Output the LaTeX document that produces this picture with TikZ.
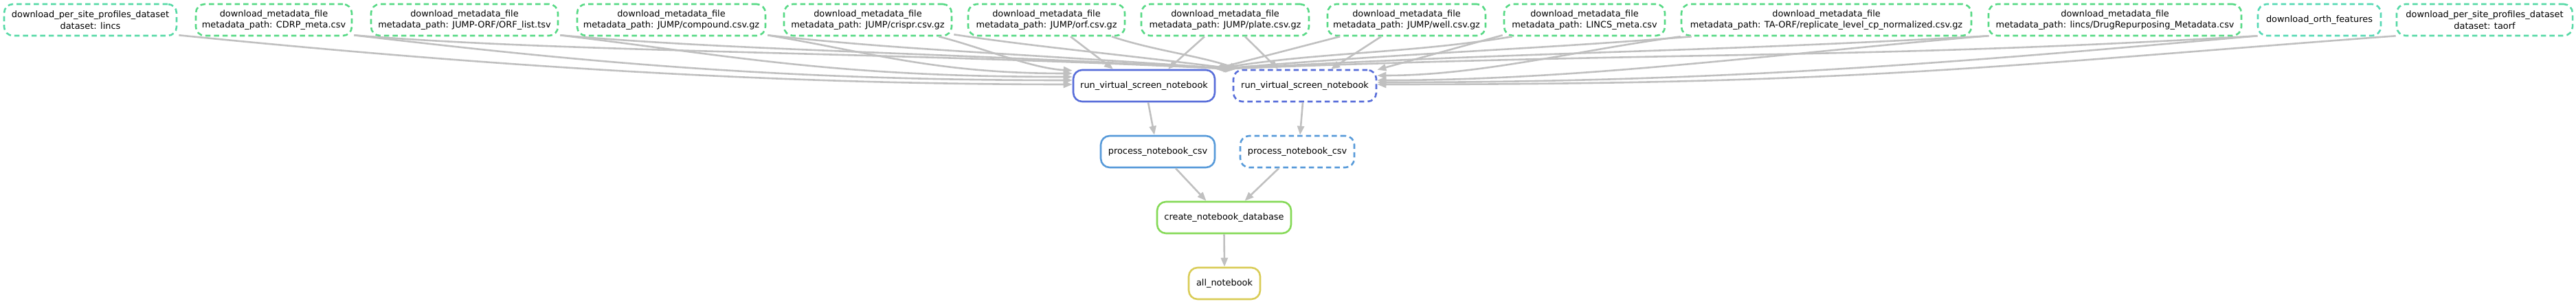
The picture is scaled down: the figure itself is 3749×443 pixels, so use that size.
\documentclass[tikz,border=0pt]{standalone}
\usepackage{fontspec}
\setmainfont{DejaVu Sans}
\usetikzlibrary{arrows.meta}
\definecolor{cPS}{RGB}{87,217,166}
\definecolor{cMD}{RGB}{87,217,133}
\definecolor{cOF}{RGB}{87,217,180}
\definecolor{cRun}{RGB}{87,109,217}
\definecolor{cProc}{RGB}{87,154,217}
\definecolor{cCreate}{RGB}{133,217,87}
\definecolor{cAll}{RGB}{217,204,87}
\definecolor{egray}{RGB}{192,192,192}
\begin{document}
\begin{tikzpicture}[x=1pt,y=-1pt,
  nbox/.style={draw, rounded corners=13pt, line width=2.6pt, align=center, inner sep=0pt,
    minimum height=46pt, font=\fontsize{12.9}{16.7}\selectfont},
  dsh/.style={dash pattern=on 7.5pt off 5pt},
  edge/.style={draw=egray, line width=2.6pt, -{Triangle[length=13pt,width=10pt]}}]
\useasboundingbox (0,0) rectangle (3749,443);

% top row
\node[nbox, dsh, draw=cPS, minimum width=251pt] (N1) at (131.5,29) {download\_per\_site\_profiles\_dataset\\dataset: lincs};
\node[nbox, dsh, draw=cMD, minimum width=227pt] (N2) at (398.5,29) {download\_metadata\_file\\metadata\_path: CDRP\_meta.csv};
\node[nbox, dsh, draw=cMD, minimum width=272pt] (N3) at (676,29) {download\_metadata\_file\\metadata\_path: JUMP-ORF/ORF\_list.tsv};
\node[nbox, dsh, draw=cMD, minimum width=274pt] (N4) at (977,29) {download\_metadata\_file\\metadata\_path: JUMP/compound.csv.gz};
\node[nbox, dsh, draw=cMD, minimum width=244pt] (N5) at (1263,29) {download\_metadata\_file\\metadata\_path: JUMP/crispr.csv.gz};
\node[nbox, dsh, draw=cMD, minimum width=228pt] (N6) at (1523,29) {download\_metadata\_file\\metadata\_path: JUMP/orf.csv.gz};
\node[nbox, dsh, draw=cMD, minimum width=244pt] (N7) at (1783,29) {download\_metadata\_file\\metadata\_path: JUMP/plate.csv.gz};
\node[nbox, dsh, draw=cMD, minimum width=230pt] (N8) at (2047,29) {download\_metadata\_file\\metadata\_path: JUMP/well.csv.gz};
\node[nbox, dsh, draw=cMD, minimum width=234pt] (N9) at (2306,29) {download\_metadata\_file\\metadata\_path: LINCS\_meta.csv};
\node[nbox, dsh, draw=cMD, minimum width=422pt] (N10) at (2658,29) {download\_metadata\_file\\metadata\_path: TA-ORF/replicate\_level\_cp\_normalized.csv.gz};
\node[nbox, dsh, draw=cMD, minimum width=368pt] (N11) at (3078,29) {download\_metadata\_file\\metadata\_path: lincs/DrugRepurposing\_Metadata.csv};
\node[nbox, dsh, draw=cOF, minimum width=179pt] (N12) at (3375.5,29) {download\_orth\_features};
\node[nbox, dsh, draw=cPS, minimum width=256pt] (N13) at (3616,29) {download\_per\_site\_profiles\_dataset\\dataset: taorf};

% lower nodes
\node[nbox, draw=cRun, minimum width=206pt] (R1) at (1665,125) {run\_virtual\_screen\_notebook};
\node[nbox, dsh, draw=cRun, minimum width=208pt] (R2) at (1899,125) {run\_virtual\_screen\_notebook};
\node[nbox, draw=cProc, minimum width=166pt] (P1) at (1685,221) {process\_notebook\_csv};
\node[nbox, dsh, draw=cProc, minimum width=166pt] (P2) at (1888,221) {process\_notebook\_csv};
\node[nbox, draw=cCreate, minimum width=195pt] (C) at (1781.5,317) {create\_notebook\_database};
\node[nbox, draw=cAll, minimum width=104pt] (A) at (1782,413) {all\_notebook};

% edges into R1 from the left
\draw[edge] ([xshift=2pt,yshift=2pt]N1.south east) .. controls +(350,35) and +(-500,0) .. ([yshift=2pt]R1.west);
\draw[edge] ([xshift=2pt,yshift=2pt]N2.south east) .. controls +(300,35) and +(-450,0) .. ([yshift=8pt]R1.west);
\draw[edge] ([xshift=2pt,yshift=2pt]N3.south east) .. controls +(250,30) and +(-350,0) .. ([yshift=13pt]R1.west);
\draw[edge] ([xshift=2pt,yshift=2pt]N4.south east) .. controls +(150,25) and +(-200,0) .. ([yshift=18pt]R1.west);
\draw[edge] ([xshift=-20pt]N5.south east) .. controls +(60,15) and +(-60,-3) .. ([yshift=-2pt]R1.north west);
% edges into R2 from the left
\draw[edge] ([xshift=2pt,yshift=2pt]N2.south east) .. controls +(300,25) and +(-500,-25) .. (R2.north west);
\draw[edge] ([xshift=2pt,yshift=2pt]N3.south east) .. controls +(250,22) and +(-450,-25) .. ([xshift=2pt]R2.north west);
\draw[edge] ([xshift=2pt,yshift=2pt]N4.south east) .. controls +(200,22) and +(-350,-25) .. ([xshift=4pt]R2.north west);
\draw[edge] ([xshift=2pt,yshift=3pt]N5.south east) .. controls +(120,18) and +(-200,-25) .. ([xshift=6pt]R2.north west);
\draw[edge] ([xshift=95pt]N6.south) .. controls +(60,20) and +(-60,-20) .. ([xshift=9pt]R2.north west);
% nearly straight edges
\draw[edge] ([xshift=35pt]N6.south) -- ([xshift=-45pt]R1.north);
\draw[edge] ([xshift=-30pt]N7.south) -- ([xshift=35pt]R1.north);
\draw[edge] ([xshift=29pt]N7.south) -- ([xshift=-39pt]R2.north);
\draw[edge] ([xshift=-37pt]N8.south) -- ([xshift=38pt]R2.north);
\draw[edge] ([xshift=-97pt]N8.south) -- ([xshift=-2pt]R1.north east);
\draw[edge] ([xshift=-1pt,yshift=2pt]N9.south west) -- ([yshift=-1pt]R2.north east);
% edges into R1 from the right
\draw[edge] ([xshift=13pt]N9.south west) .. controls +(-150,25) and +(150,-25) .. ([xshift=-1pt]R1.north east);
\draw[edge] ([xshift=16pt]N10.south west) .. controls +(-250,20) and +(300,-25) .. (R1.north east);
\draw[edge] ([xshift=2pt,yshift=1pt]N11.south west) .. controls +(-450,25) and +(500,-27) .. ([xshift=1pt]R1.north east);
\draw[edge] ([xshift=1pt,yshift=1pt]N12.south west) .. controls +(-600,35) and +(700,-27) .. ([xshift=2pt]R1.north east);
% edges into R2 from the right
\draw[edge] (N10.south west) .. controls +(-150,20) and +(150,0) .. ([yshift=15pt]R2.east);
\draw[edge] ([yshift=1pt]N11.south west) .. controls +(-300,25) and +(300,0) .. ([yshift=8pt]R2.east);
\draw[edge] ([yshift=1pt]N12.south west) .. controls +(-450,40) and +(500,0) .. ([yshift=5pt]R2.east);
\draw[edge] ([yshift=1pt]N13.south west) .. controls +(-600,45) and +(700,0) .. ([yshift=2pt]R2.east);

% lower edges
\draw[edge] ([xshift=6pt]R1.south) -- ([xshift=-5pt]P1.north);
\draw[edge] ([xshift=-3pt]R2.south) -- ([xshift=4pt]P2.north);
\draw[edge] ([xshift=26pt]P1.south) -- ([xshift=-26pt]C.north);
\draw[edge] ([xshift=-27pt]P2.south) -- ([xshift=30pt]C.north);
\draw[edge] (C.south) -- (A.north);
\end{tikzpicture}
\end{document}
